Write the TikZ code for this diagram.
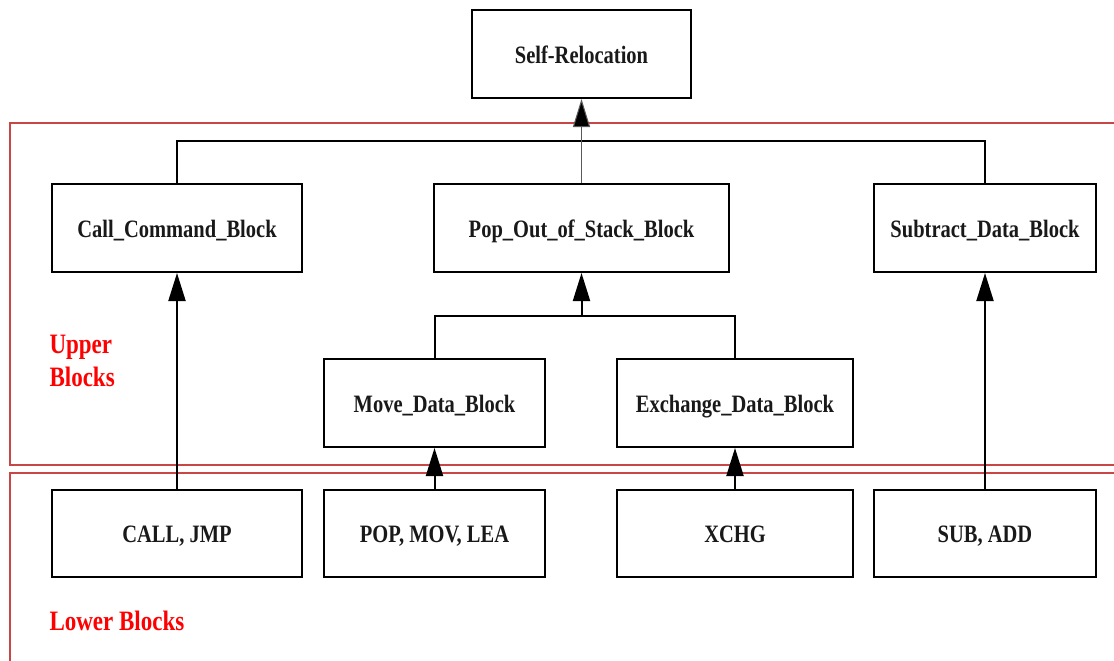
\documentclass[tikz,border=0pt]{standalone}
\usepackage{fontspec}
\setmainfont{Liberation Serif}
\usetikzlibrary{arrows.meta}
\definecolor{frame}{RGB}{200,70,70}
% vertically stretched label text with a fixed height and depth
\newcommand{\tall}[1]{\scalebox{1}[1.22]{\rule[-7pt]{0pt}{29pt}#1}}
\newcommand{\stretched}[1]{\scalebox{1}[1.22]{#1}}
\tikzset{
  blk/.style={draw, line width=2pt, minimum height=88pt, inner sep=0pt,
    font=\fontsize{20.5}{24}\selectfont\bfseries, text=black!90},
  link/.style={line width=2pt},
  up/.style={line width=2pt, -{Triangle[length=28pt,width=17pt]}},
  thinup/.style={line width=1pt, draw=black!65, -{Triangle[length=28pt,width=17pt,fill=black]}},
  region/.style={draw=frame, line width=1.3pt},
  tag/.style={text=red, font=\fontsize{23}{33}\selectfont\bfseries, anchor=west, align=left}
}
\begin{document}
\begin{tikzpicture}[x=1pt,y=-1pt]
\useasboundingbox (0,0) rectangle (1114,661);
\fill[white] (0,0) rectangle (1114,661);

% the two regions
\draw[region] (1114,123) -- (10,123) -- (10,465) -- (1114,465);
\draw[region] (1114,473) -- (10,473) -- (10,661);

% top level
\node[blk, minimum width=219pt] (self) at (581.5,54) {\tall{Self-Relocation}};

% upper blocks
\node[blk, minimum width=250pt] (call) at (177,228) {\tall{Call\_Command\_Block}};
\node[blk, minimum width=295pt] (pop)  at (581.5,228) {\tall{Pop\_Out\_of\_Stack\_Block}};
\node[blk, minimum width=222pt] (sub)  at (985,228) {\tall{Subtract\_Data\_Block}};
\node[blk, minimum width=221pt] (move) at (434.5,403) {\tall{Move\_Data\_Block}};
\node[blk, minimum width=236pt] (exch) at (735,403) {\tall{Exchange\_Data\_Block}};

% lower blocks
\node[blk, minimum width=250pt, minimum height=87pt] (ins1) at (177,533.5) {\tall{CALL, JMP}};
\node[blk, minimum width=221pt, minimum height=87pt] (ins2) at (434.5,533.5) {\tall{POP, MOV, LEA}};
\node[blk, minimum width=236pt, minimum height=87pt] (ins3) at (735,533.5) {\tall{XCHG}};
\node[blk, minimum width=222pt, minimum height=87pt] (ins4) at (985,533.5) {\tall{SUB, ADD}};

% region labels
\node[tag] (uplab) at (46,361) {\stretched{Upper}\\\stretched{Blocks}};
\node[tag] (lowlab) at (46,621) {\stretched{Lower Blocks}};

% connectors
\draw[link] (call.north) -- ++(0,-42) -| (sub.north);
\draw[thinup] (pop.north) -- (self.south);

\coordinate (mj) at (581.5,316);
\draw[link] (move.north) |- (mj) -| (exch.north);
\draw[up] (mj) -- (pop.south);

\draw[up] (ins1.north) -- (call.south);
\draw[up] (ins2.north) -- (move.south);
\draw[up] (ins3.north) -- (exch.south);
\draw[up] (ins4.north) -- (sub.south);
\end{tikzpicture}
\end{document}
